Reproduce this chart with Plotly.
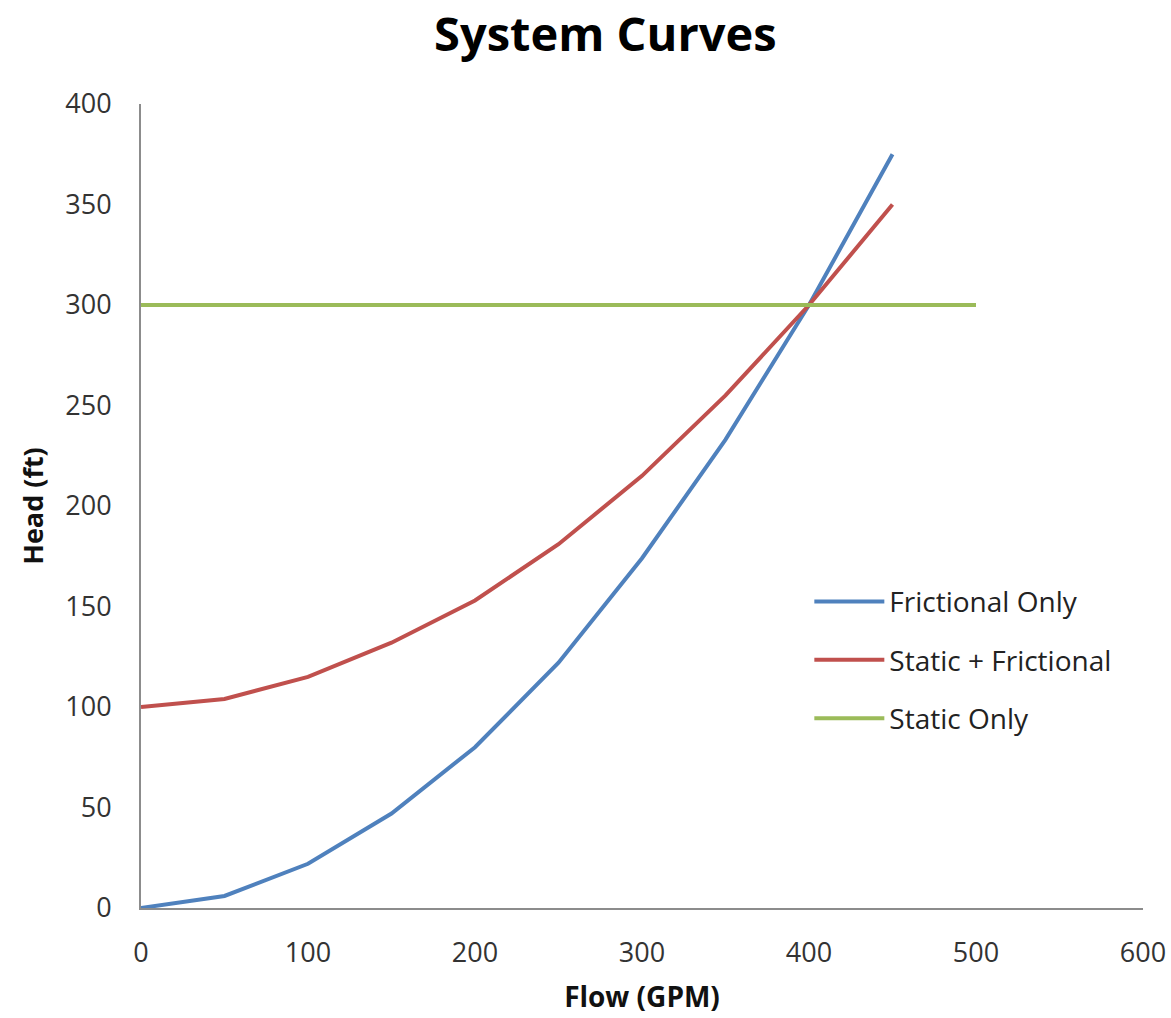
import plotly.graph_objects as go

# Flow rates (GPM) at which each curve is evaluated
flow = [0, 50, 100, 150, 200, 250, 300, 350, 400, 450]
flow_static = [0, 50, 100, 150, 200, 250, 300, 350, 400, 450, 500]

# Head (ft) for each system curve
head_frictional = [0, 6, 22, 47, 80, 122, 174, 233, 300, 375]
head_static_frictional = [100, 104, 115, 132, 153, 181, 215, 255, 300, 350]
head_static = [300, 300, 300, 300, 300, 300, 300, 300, 300, 300, 300]

series_names = ["Frictional Only", "Static + Frictional", "Static Only"]
series_colors = ["#4F81BD", "#C0504D", "#9BBB59"]

x_ticks = [0, 100, 200, 300, 400, 500, 600]
y_ticks = [0, 50, 100, 150, 200, 250, 300, 350, 400]

FONT = "'Open Sans', Lato, sans-serif"

fig = go.Figure()
for name, xs, ys, color in zip(
    series_names,
    [flow, flow, flow_static],
    [head_frictional, head_static_frictional, head_static],
    series_colors,
):
    fig.add_trace(go.Scatter(
        x=xs, y=ys, mode="lines", name=name, legendgroup=name,
        line=dict(color=color, width=4),
    ))

fig.update_layout(
    width=1171, height=1018,
    margin=dict(l=141, r=28, t=104, b=110),
    paper_bgcolor="white", plot_bgcolor="white",
    font=dict(family=FONT, color="#333333", size=27),
    title=dict(
        text="<b>System Curves</b>", x=0.517, xanchor="center",
        y=0.966, yanchor="middle",
        font=dict(family=FONT, size=47, color="#000000"),
    ),
    legend=dict(
        x=0.667, xanchor="left", y=0.412, yanchor="top",
        font=dict(family=FONT, size=28, color="#222222"),
        traceorder="grouped", tracegroupgap=19,
        bgcolor="rgba(0,0,0,0)", itemwidth=70,
    ),
    showlegend=True,
)

fig.update_xaxes(
    range=[0, 600], tickvals=x_ticks, ticktext=[str(v) for v in x_ticks],
    showgrid=False, zeroline=False, showline=True, linecolor="#8C8C8C",
    linewidth=2, ticks="", ticklabelstandoff=20, automargin=False,
    title=dict(text="<b>Flow (GPM)</b>", font=dict(family=FONT, size=28, color="#111111"), standoff=18),
)
fig.update_yaxes(
    range=[0, 400], tickvals=y_ticks, ticktext=[str(v) for v in y_ticks],
    showgrid=False, zeroline=False, showline=True, linecolor="#8C8C8C",
    linewidth=2, ticks="", ticklabelstandoff=22, automargin=False,
    title=dict(text="<b>Head (ft)</b>", font=dict(family=FONT, size=27, color="#111111"), standoff=14),
)

fig.write_html("out.html")
